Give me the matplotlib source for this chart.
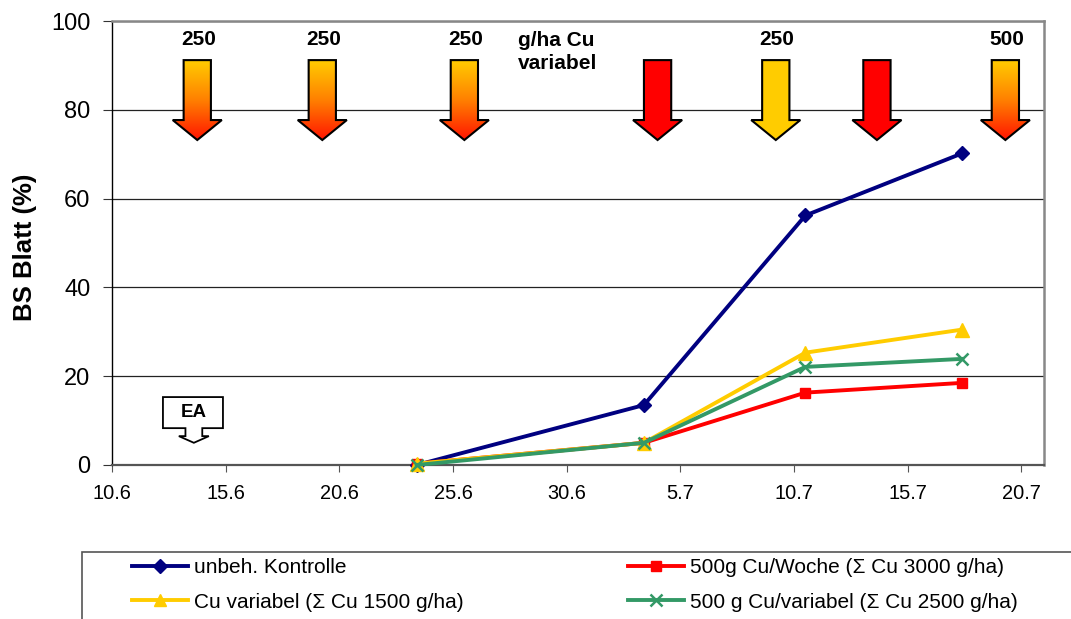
import numpy as np
import matplotlib.pyplot as plt
from matplotlib.patches import Polygon, Rectangle
from matplotlib.colors import LinearSegmentedColormap
from matplotlib.lines import Line2D

plt.rcParams['font.family'] = ['Liberation Sans', 'DejaVu Sans']

# x in days after 10.6.
days = [13.4, 23.4, 30.5, 37.4]
kontrolle = [0.0, 13.5, 56.2, 70.2]
cu_woche = [0.3, 5.0, 16.3, 18.5]
cu_variabel = [0.3, 5.0, 25.3, 30.5]
cu_500_variabel = [0.0, 5.0, 22.1, 23.9]

tick_days = [0, 5, 10, 15, 20, 25, 30, 35, 40]
tick_labels = ["10.6", "15.6", "20.6", "25.6", "30.6", "5.7", "10.7", "15.7", "20.7"]

# spray dates (arrows), colour type and dose label
spray_days = [3.75, 9.25, 15.5, 24.0, 29.2, 33.65, 39.3]
spray_kind = ["grad", "grad", "grad", "red", "yellow", "red", "grad"]
dose_labels = ["250", "250", "250", "", "250", "", "500"]

ea_day = 3.6  # EA marker

cmap = LinearSegmentedColormap.from_list("cu", ["#FFCC00", "#FF8000", "#FF1500"])


def down_arrow(ax, xc, kind):
    top, neck, tip = 91.2, 77.7, 73.2
    sw, hw = 0.6, 1.08
    pts = [(xc - sw, top), (xc + sw, top), (xc + sw, neck), (xc + hw, neck),
           (xc, tip), (xc - hw, neck), (xc - sw, neck)]
    if kind == "grad":
        poly = Polygon(pts, closed=True, facecolor="none", edgecolor="black", lw=1.5, zorder=4)
        ax.add_patch(poly)
        grad = np.linspace(0, 1, 200).reshape(-1, 1)
        im = ax.imshow(grad, cmap=cmap, extent=(xc - hw, xc + hw, tip, top),
                       origin="upper", aspect="auto", zorder=3)
        im.set_clip_path(poly)
    else:
        fc = "#FF0000" if kind == "red" else "#FFCC00"
        ax.add_patch(Polygon(pts, closed=True, facecolor=fc, edgecolor="black", lw=1.5, zorder=4))


def ea_callout(ax, xc):
    # box with small down arrow below
    bl, br, bt, bb = xc - 1.36, xc + 1.28, 15.3, 8.3
    sw, hw = 0.37, 0.66
    pts = [(bl, bt), (br, bt), (br, bb), (xc + sw, bb), (xc + sw, 6.5), (xc + hw, 6.5),
           (xc, 5.0), (xc - hw, 6.5), (xc - sw, 6.5), (xc - sw, bb), (bl, bb)]
    ax.add_patch(Polygon(pts, closed=True, facecolor="white", edgecolor="black", lw=1.3, zorder=4))
    ax.text(xc, (bt + bb) / 2, "EA", ha="center", va="center", fontsize=13.5,
            fontweight="bold", zorder=5)


fig = plt.figure(figsize=(10.71, 6.19), dpi=100)
ax = fig.add_axes([0.1046, 0.2488, 0.8702, 0.7172])

ax.plot(days, kontrolle, color="#000080", lw=2.8, marker="D", ms=7.5, clip_on=False, zorder=6)
ax.plot(days, cu_woche, color="#FF0000", lw=2.8, marker="s", ms=7.5, clip_on=False, zorder=6)
ax.plot(days, cu_variabel, color="#FFCC00", lw=2.8, marker="^", ms=9.5, clip_on=False, zorder=6)
ax.plot(days, cu_500_variabel, color="#339966", lw=2.8, marker="x", ms=9, mew=1.8, clip_on=False, zorder=6)

for d, k, lab in zip(spray_days, spray_kind, dose_labels):
    down_arrow(ax, d, k)
    if lab:
        ax.text(d + 0.05, 95.8, lab, ha="center", va="center", fontsize=15, fontweight="bold")

ax.text(17.85, 95.7, "g/ha Cu", ha="left", va="center", fontsize=15, fontweight="bold")
ax.text(17.85, 90.5, "variabel", ha="left", va="center", fontsize=15, fontweight="bold")

ea_callout(ax, ea_day)

ax.set_xlim(0, 41)
ax.set_ylim(0, 100)
ax.set_xticks(tick_days)
ax.set_xticklabels(tick_labels)
ax.set_yticks([0, 20, 40, 60, 80, 100])
ax.tick_params(axis="x", labelsize=14.4, direction="out", length=5, color="#555555", pad=9)
ax.tick_params(axis="y", labelsize=17, direction="out", length=6.5, color="#333333", pad=9)
ax.grid(axis="y", color="#222222", lw=0.9)
ax.set_axisbelow(True)

ax.spines["left"].set_color("black")
ax.spines["left"].set_linewidth(1.0)
ax.spines["bottom"].set_color("#555555")
ax.spines["bottom"].set_linewidth(1.6)
for s in ["top", "right"]:
    ax.spines[s].set_color("#888888")
    ax.spines[s].set_linewidth(1.8)

ax.set_ylabel("BS Blatt (%)", fontsize=18.5, fontweight="bold")
ax.yaxis.set_label_coords(-0.08, 0.49)

# legend
h1 = Line2D([], [], color="#000080", lw=2.8, marker="D", ms=7)
h2 = Line2D([], [], color="#FF0000", lw=2.8, marker="s", ms=7)
h3 = Line2D([], [], color="#FFCC00", lw=2.8, marker="^", ms=9)
h4 = Line2D([], [], color="#339966", lw=2.8, marker="x", ms=8, mew=1.8)
common = dict(loc="upper left", frameon=False, fontsize=15, handlelength=2.7,
              handletextpad=0.3, labelspacing=0.75, borderpad=0, borderaxespad=0, numpoints=1)
fig.legend([h1, h3], ["unbeh. Kontrolle", "Cu variabel (\u03a3 Cu 1500 g/ha)"],
           bbox_to_anchor=(132 / 1071, 1 - 558 / 619), **common)
fig.legend([h2, h4], ["500g Cu/Woche (\u03a3 Cu 3000 g/ha)", "500 g Cu/variabel (\u03a3 Cu 2500 g/ha)"],
           bbox_to_anchor=(628 / 1071, 1 - 558 / 619), **common)
fig.add_artist(Rectangle((82 / 1071, -0.1), 1.2, (619 - 552) / 619 + 0.1, transform=fig.transFigure,
                         fill=False, edgecolor="#555555", lw=1.2))

fig.savefig("out.png", dpi=100)
